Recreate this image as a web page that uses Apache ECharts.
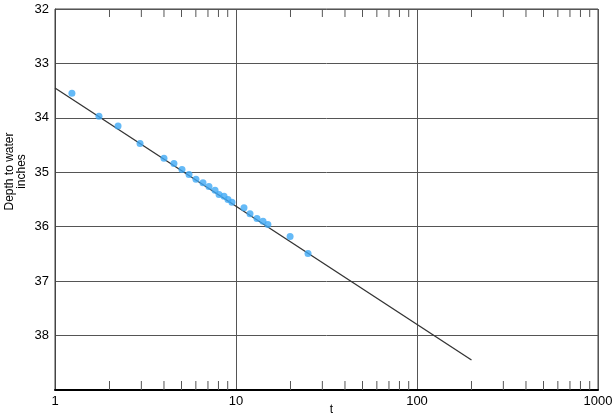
<!DOCTYPE html>
<html><head><meta charset="utf-8">
<script src="https://cdn.jsdelivr.net/npm/echarts@6/dist/echarts.min.js"></script>
<style>html,body{margin:0;padding:0;background:#fff}#c{width:614px;height:419px}</style>
</head><body><div id="c"></div>
<script>
var obsT = [1.24,1.75,2.23,2.95,4.0,4.54,5.03,5.5,6.01,6.57,7.09,7.66,8.06,8.59,9.03,9.5,11.07,11.95,13.06,14.1,15.0,19.9,25.0];
var obsDepth = [33.55,33.97,34.15,34.47,34.74,34.84,34.95,35.04,35.13,35.19,35.26,35.33,35.41,35.44,35.50,35.55,35.65,35.76,35.85,35.90,35.96,36.18,36.49];
var fitT = [1, 200];
var fitDepth = [33.45, 38.45];
var minorTicks = [2,3,4,5,6,7,8,9,20,30,40,50,60,70,80,90,200,300,400,500,600,700,800,900];
var yTickHidden = [39];

var font = '"Liberation Sans", Arial, Helvetica, sans-serif';
var chart = echarts.init(document.getElementById('c'), null, {renderer:'canvas'});
chart.setOption({
  animation:false,
  grid:{left:55,right:16,top:9,bottom:29,containLabel:false,outerBoundsMode:'none',
        show:true,borderColor:'#444',borderWidth:1,backgroundColor:'transparent'},
  xAxis:[{
    type:'log', logBase:10, min:1, max:1000,
    name:'t', nameLocation:'middle', nameGap:14, nameMoveOverlap:false,
    nameTextStyle:{fontFamily:font,fontSize:12,color:'#000',padding:[0,0,0,10]},
    axisLine:{show:true,onZero:false,lineStyle:{color:'#000',width:2}},
    axisTick:{show:false},
    axisLabel:{fontFamily:font,fontSize:13,color:'#000',margin:5,
      formatter:function(v){return String(Math.round(v));}},
    splitLine:{show:true,lineStyle:{color:'#555',width:1}},
    minorTick:{show:false}, minorSplitLine:{show:false}
  }],
  yAxis:[{
    type:'value', inverse:true, min:32, max:39, interval:1,
    name:'Depth to water\ninches', nameLocation:'middle', nameGap:27, nameRotate:90, nameMoveOverlap:false,
    nameTextStyle:{fontFamily:font,fontSize:12,color:'#000',lineHeight:12,padding:[0,0,0,56]},
    axisLine:{show:true,lineStyle:{color:'#444',width:1}},
    axisTick:{show:false},
    axisLabel:{fontFamily:font,fontSize:13,color:'#000',margin:6,
      formatter:function(v){return yTickHidden.indexOf(v)>=0?'':String(v);}},
    splitLine:{show:true,lineStyle:{color:'#555',width:1}}
  }],
  series:[
    {type:'line', data:fitT.map(function(t,i){return [t,fitDepth[i]];}),
     showSymbol:false, lineStyle:{color:'#333',width:1.3}, z:2},
    {type:'scatter', data:obsT.map(function(t,i){return [t,obsDepth[i]];}),
     symbolSize:7, itemStyle:{color:'#3fa9f5'}, z:3},
    {type:'custom', data:minorTicks.map(function(t){return [t];}), z:1, clip:false,
     renderItem:function(params, api){
       var b = api.coord([api.value(0), 39]);
       var t = api.coord([api.value(0), 32]);
       var st = {stroke:'#555', lineWidth:1};
       return {type:'group', children:[
         {type:'line', shape:{x1:b[0],y1:b[1],x2:b[0],y2:b[1]-9}, style:st},
         {type:'line', shape:{x1:t[0],y1:t[1],x2:t[0],y2:t[1]+8}, style:st}
       ]};
     }}
  ]
});
</script></body></html>
